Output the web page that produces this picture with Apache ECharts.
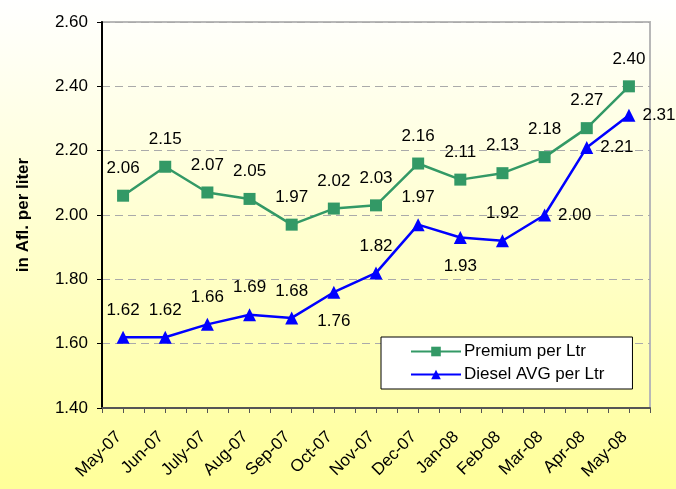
<!DOCTYPE html>
<html>
<head>
<meta charset="utf-8">
<script src="https://cdn.jsdelivr.net/npm/echarts@6/dist/echarts.min.js"></script>
<style>
html,body{margin:0;padding:0;}
#c{width:676px;height:489px;background:linear-gradient(to bottom,#ffffff 0%,#ffffcc 50%,#ffff99 100%);}
</style>
</head>
<body>
<div id="c"></div>
<script>
const months = ['May-07','Jun-07','July-07','Aug-07','Sep-07','Oct-07','Nov-07','Dec-07','Jan-08','Feb-08','Mar-08','Apr-08','May-08'];
const premium = [2.06, 2.15, 2.07, 2.05, 1.97, 2.02, 2.03, 2.16, 2.11, 2.13, 2.18, 2.27, 2.40];
const diesel = [1.62, 1.62, 1.66, 1.69, 1.68, 1.76, 1.82, 1.97, 1.93, 1.92, 2.00, 2.21, 2.31];
const yTicks = [1.40, 1.60, 1.80, 2.00, 2.20, 2.40, 2.60];

// label side for each diesel point (styling)
const dieselLabelSide = ['top','top','top','top','top','bottom','top','top','bottom','top','right','right','right'];

const FONT = '"Liberation Sans", Arial, sans-serif';
const FS = 17;
const chart = echarts.init(document.getElementById('c'), null, {renderer: 'canvas'});

function sideCfg(side) {
  if (side === 'bottom') return {position: 'bottom', distance: 14};
  if (side === 'right') return {position: 'right', distance: 7};
  return {position: 'top', distance: 12};
}

chart.setOption({
  backgroundColor: 'transparent',
  animation: false,
  textStyle: {fontFamily: FONT},
  grid: {left: 102, right: 26, top: 22, bottom: 81, show: true, borderColor: '#b8b8b8', borderWidth: 2, backgroundColor: 'transparent'},
  legend: {
    orient: 'vertical',
    left: 381,
    top: 337,
    padding: [6, 28, 6, 29],
    itemGap: 6,
    itemWidth: 50,
    itemHeight: 12,
    backgroundColor: '#ffffff',
    borderColor: '#000000',
    borderWidth: 1,
    borderRadius: 0,
    textStyle: {fontSize: FS, color: '#000', fontFamily: FONT, padding: [0, 0, 0, -2]},
    data: ['Premium per Ltr', 'Diesel AVG per Ltr']
  },
  xAxis: [{
    type: 'category',
    data: months,
    boundaryGap: true,
    axisLine: {show: true, lineStyle: {color: '#555', width: 2}},
    axisTick: {show: true, interval: 0, length: 5, lineStyle: {color: '#555', width: 1}},
    axisLabel: {interval: 0, rotate: 45, fontSize: FS, color: '#000', margin: 22, padding: [0, 6, 0, 0], fontFamily: FONT},
    splitLine: {show: false}
  }, {
    type: 'category',
    data: months,
    position: 'bottom',
    boundaryGap: true,
    axisLine: {show: false},
    axisTick: {show: true, interval: 0, alignWithLabel: true, length: 5, lineStyle: {color: '#555', width: 1}},
    axisLabel: {show: false},
    splitLine: {show: false}
  }],
  yAxis: {
    type: 'value',
    min: yTicks[0],
    max: yTicks[yTicks.length - 1],
    interval: 0.2,
    name: 'in Afl. per liter',
    nameLocation: 'middle',
    nameRotate: 90,
    nameGap: 70,
    nameTextStyle: {fontSize: 17, fontWeight: 'bold', color: '#000', fontFamily: FONT},
    axisLine: {show: true, lineStyle: {color: '#000', width: 2}},
    axisTick: {show: true, length: 5, lineStyle: {color: '#000', width: 1}},
    axisLabel: {fontSize: FS, color: '#000', margin: 14, fontFamily: FONT, formatter: v => v.toFixed(2)},
    splitLine: {show: true, lineStyle: {color: '#aaaaaa', type: [8, 5], width: 1}}
  },
  series: [{
    name: 'Premium per Ltr',
    type: 'line',
    data: premium,
    symbol: 'rect',
    symbolSize: 12,
    itemStyle: {color: '#339966'},
    lineStyle: {color: '#339966', width: 2.5},
    label: {show: true, position: 'top', distance: 13, fontSize: FS, color: '#000', fontFamily: FONT, formatter: p => p.value.toFixed(2)},
    z: 3
  }, {
    name: 'Diesel AVG per Ltr',
    type: 'line',
    data: diesel.map((v, i) => ({value: v, label: sideCfg(dieselLabelSide[i])})),
    symbol: 'triangle',
    symbolSize: 13,
    itemStyle: {color: '#0000ff'},
    lineStyle: {color: '#0000ff', width: 2.5},
    label: {show: true, fontSize: FS, color: '#000', fontFamily: FONT, formatter: p => p.value.toFixed(2)},
    z: 4
  }]
});
</script>
</body>
</html>
